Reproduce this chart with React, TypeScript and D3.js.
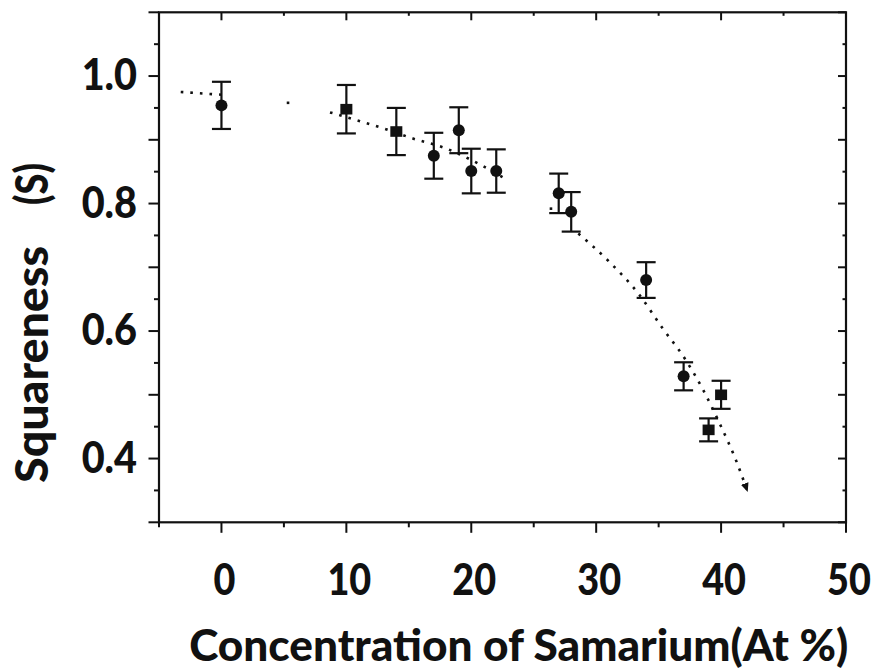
import React from 'react';
import * as d3 from 'd3';

// ---- data ----
const concentration = [0, 10, 14, 17, 19, 20, 22, 27, 28, 34, 37, 39, 40];
const squareness = [0.954, 0.948, 0.913, 0.875, 0.915, 0.851, 0.851, 0.816, 0.787, 0.68, 0.529, 0.445, 0.5];
const errorBars = [0.037, 0.038, 0.037, 0.036, 0.036, 0.035, 0.034, 0.031, 0.031, 0.028, 0.022, 0.018, 0.022];
const markerShapes = ['circle', 'square', 'square', 'circle', 'circle', 'circle', 'circle', 'circle', 'circle', 'circle', 'circle', 'square', 'square'];

// dotted trend curve (visible pieces)
const trendSegA: [number, number][] = [[-3.26, 0.975], [0.52, 0.97]];
const trendSegB: [number, number][] = [[8.69, 0.943], [13.09, 0.917], [15.33, 0.902], [17.9, 0.887], [20.91, 0.859], [22.7, 0.839]];
const trendSegC: [number, number][] = [[28.57, 0.753], [31.03, 0.709], [33.45, 0.657], [35.29, 0.605], [37.09, 0.557], [38.5, 0.51], [39.86, 0.456], [41.3, 0.392], [42.05, 0.352]];
const trendDots: [number, number][] = [[5.33, 0.958], [26.38, 0.792]];

const xMajorTicks = [0, 10, 20, 30, 40, 50];
const xMinorTicks = [-5, 5, 15, 25, 35, 45];
const xTickLabels = ['0', '10', '20', '30', '40', '50'];
const yMajorTicks = [0.3, 0.4, 0.5, 0.6, 0.7, 0.8, 0.9, 1.0, 1.1];
const yMinorTicks = [0.35, 0.45, 0.55, 0.65, 0.75, 0.85, 0.95, 1.05];
const yLabelValues = [0.4, 0.6, 0.8, 1.0];
const yTickLabels = ['0.4', '0.6', '0.8', '1.0'];

const xTitle = 'Concentration of Samarium(At %)';
const yTitleMain = 'Squareness';
const yTitleUnit = '(S)';

const W = 878;
const H = 671;
const left = 159, right = 846, top = 12.3, bottom = 522.3;
const FONT = 'Lato, "Open Sans", sans-serif';
const INK = '#111';

export default function App() {
  const x = d3.scaleLinear().domain([-5, 50]).range([left, right]);
  const y = d3.scaleLinear().domain([0.3, 1.1]).range([bottom, top]);
  const line = d3.line<[number, number]>().x(d => x(d[0])).y(d => y(d[1])).curve(d3.curveMonotoneX);

  return (
    <svg width={W} height={H} style={{ position: 'absolute', left: 0, top: 0, background: '#fff' }}>
      <defs>
        <marker id="arrow" markerUnits="userSpaceOnUse" markerWidth="12" markerHeight="12" refX="6" refY="5" orient="auto">
          <path d="M0,1 L9,5 L0,9 z" fill={INK} />
        </marker>
      </defs>
      <rect x={0} y={0} width={W} height={H} fill="#fff" />

      {/* ticks */}
      <g stroke={INK} strokeWidth={2}>
        {xMajorTicks.map(t => (
          <g key={'xM' + t}>
            <line x1={x(t)} x2={x(t)} y1={bottom} y2={bottom + 10.5} />
            <line x1={x(t)} x2={x(t)} y1={top} y2={top + 8} />
          </g>
        ))}
        {xMinorTicks.map(t => (
          <g key={'xm' + t}>
            <line x1={x(t)} x2={x(t)} y1={bottom} y2={bottom + 5} />
            <line x1={x(t)} x2={x(t)} y1={top} y2={top + 3.5} />
          </g>
        ))}
        {yMajorTicks.map(t => (
          <g key={'yM' + t}>
            <line x1={left - 10.5} x2={left} y1={y(t)} y2={y(t)} />
            <line x1={right - 8} x2={right} y1={y(t)} y2={y(t)} />
          </g>
        ))}
        {yMinorTicks.map(t => (
          <g key={'ym' + t}>
            <line x1={left - 5} x2={left} y1={y(t)} y2={y(t)} />
            <line x1={right - 3.5} x2={right} y1={y(t)} y2={y(t)} />
          </g>
        ))}
      </g>

      {/* frame */}
      <rect x={left} y={top} width={right - left} height={bottom - top} fill="none" stroke={INK} strokeWidth={2.2} />

      {/* tick labels */}
      <g fontFamily={FONT} fontWeight={900} fontSize={44} fill={INK}>
        {xMajorTicks.map((t, i) => (
          <text key={'xl' + t} transform={`translate(${x(t) + 3},${595}) scale(0.86,1)`} textAnchor="middle">
            {xTickLabels[i]}
          </text>
        ))}
        {yLabelValues.map((t, i) => (
          <text key={'yl' + t} transform={`translate(137,${y(t) + 14}) scale(0.9,1)`} textAnchor="end">
            {yTickLabels[i]}
          </text>
        ))}
      </g>

      {/* axis titles */}
      <text x={518.7} y={661} textAnchor="middle" fontFamily={FONT} fontWeight={900} fontSize={43} fill={INK}
        textLength={659} lengthAdjust="spacingAndGlyphs">
        {xTitle}
      </text>
      <g transform="translate(48,483) rotate(-90)" fontFamily={FONT} fontWeight={900} fontSize={46} fill={INK}>
        <text x={0} y={0} textLength={237} lengthAdjust="spacingAndGlyphs">{yTitleMain}</text>
        <text x={278} y={0} textLength={42} lengthAdjust="spacingAndGlyphs">{yTitleUnit}</text>
      </g>

      {/* dotted trend */}
      <g fill="none" stroke={INK} strokeWidth={2.6} strokeDasharray="2.6 7">
        <path d={line(trendSegA) || ''} />
        <path d={line(trendSegB) || ''} />
        <path d={line(trendSegC) || ''} markerEnd="url(#arrow)" />
      </g>
      {trendDots.map((d, i) => (
        <rect key={'td' + i} x={x(d[0]) - 1.3} y={y(d[1]) - 1.3} width={2.6} height={2.6} fill={INK} />
      ))}

      {/* error bars and markers */}
      <g stroke={INK} strokeWidth={2.2}>
        {concentration.map((c, i) => {
          const cx = x(c);
          const y1 = y(squareness[i] + errorBars[i]);
          const y2 = y(squareness[i] - errorBars[i]);
          return (
            <g key={'eb' + i}>
              <line x1={cx} x2={cx} y1={y1} y2={y2} />
              <line x1={cx - 9.5} x2={cx + 9.5} y1={y1} y2={y1} />
              <line x1={cx - 9.5} x2={cx + 9.5} y1={y2} y2={y2} />
            </g>
          );
        })}
      </g>
      <g fill={INK}>
        {concentration.map((c, i) =>
          markerShapes[i] === 'circle' ? (
            <circle key={'m' + i} cx={x(c)} cy={y(squareness[i])} r={6} />
          ) : (
            <rect key={'m' + i} x={x(c) - 6} y={y(squareness[i]) - 5.3} width={12} height={10.6} />
          )
        )}
      </g>
    </svg>
  );
}
